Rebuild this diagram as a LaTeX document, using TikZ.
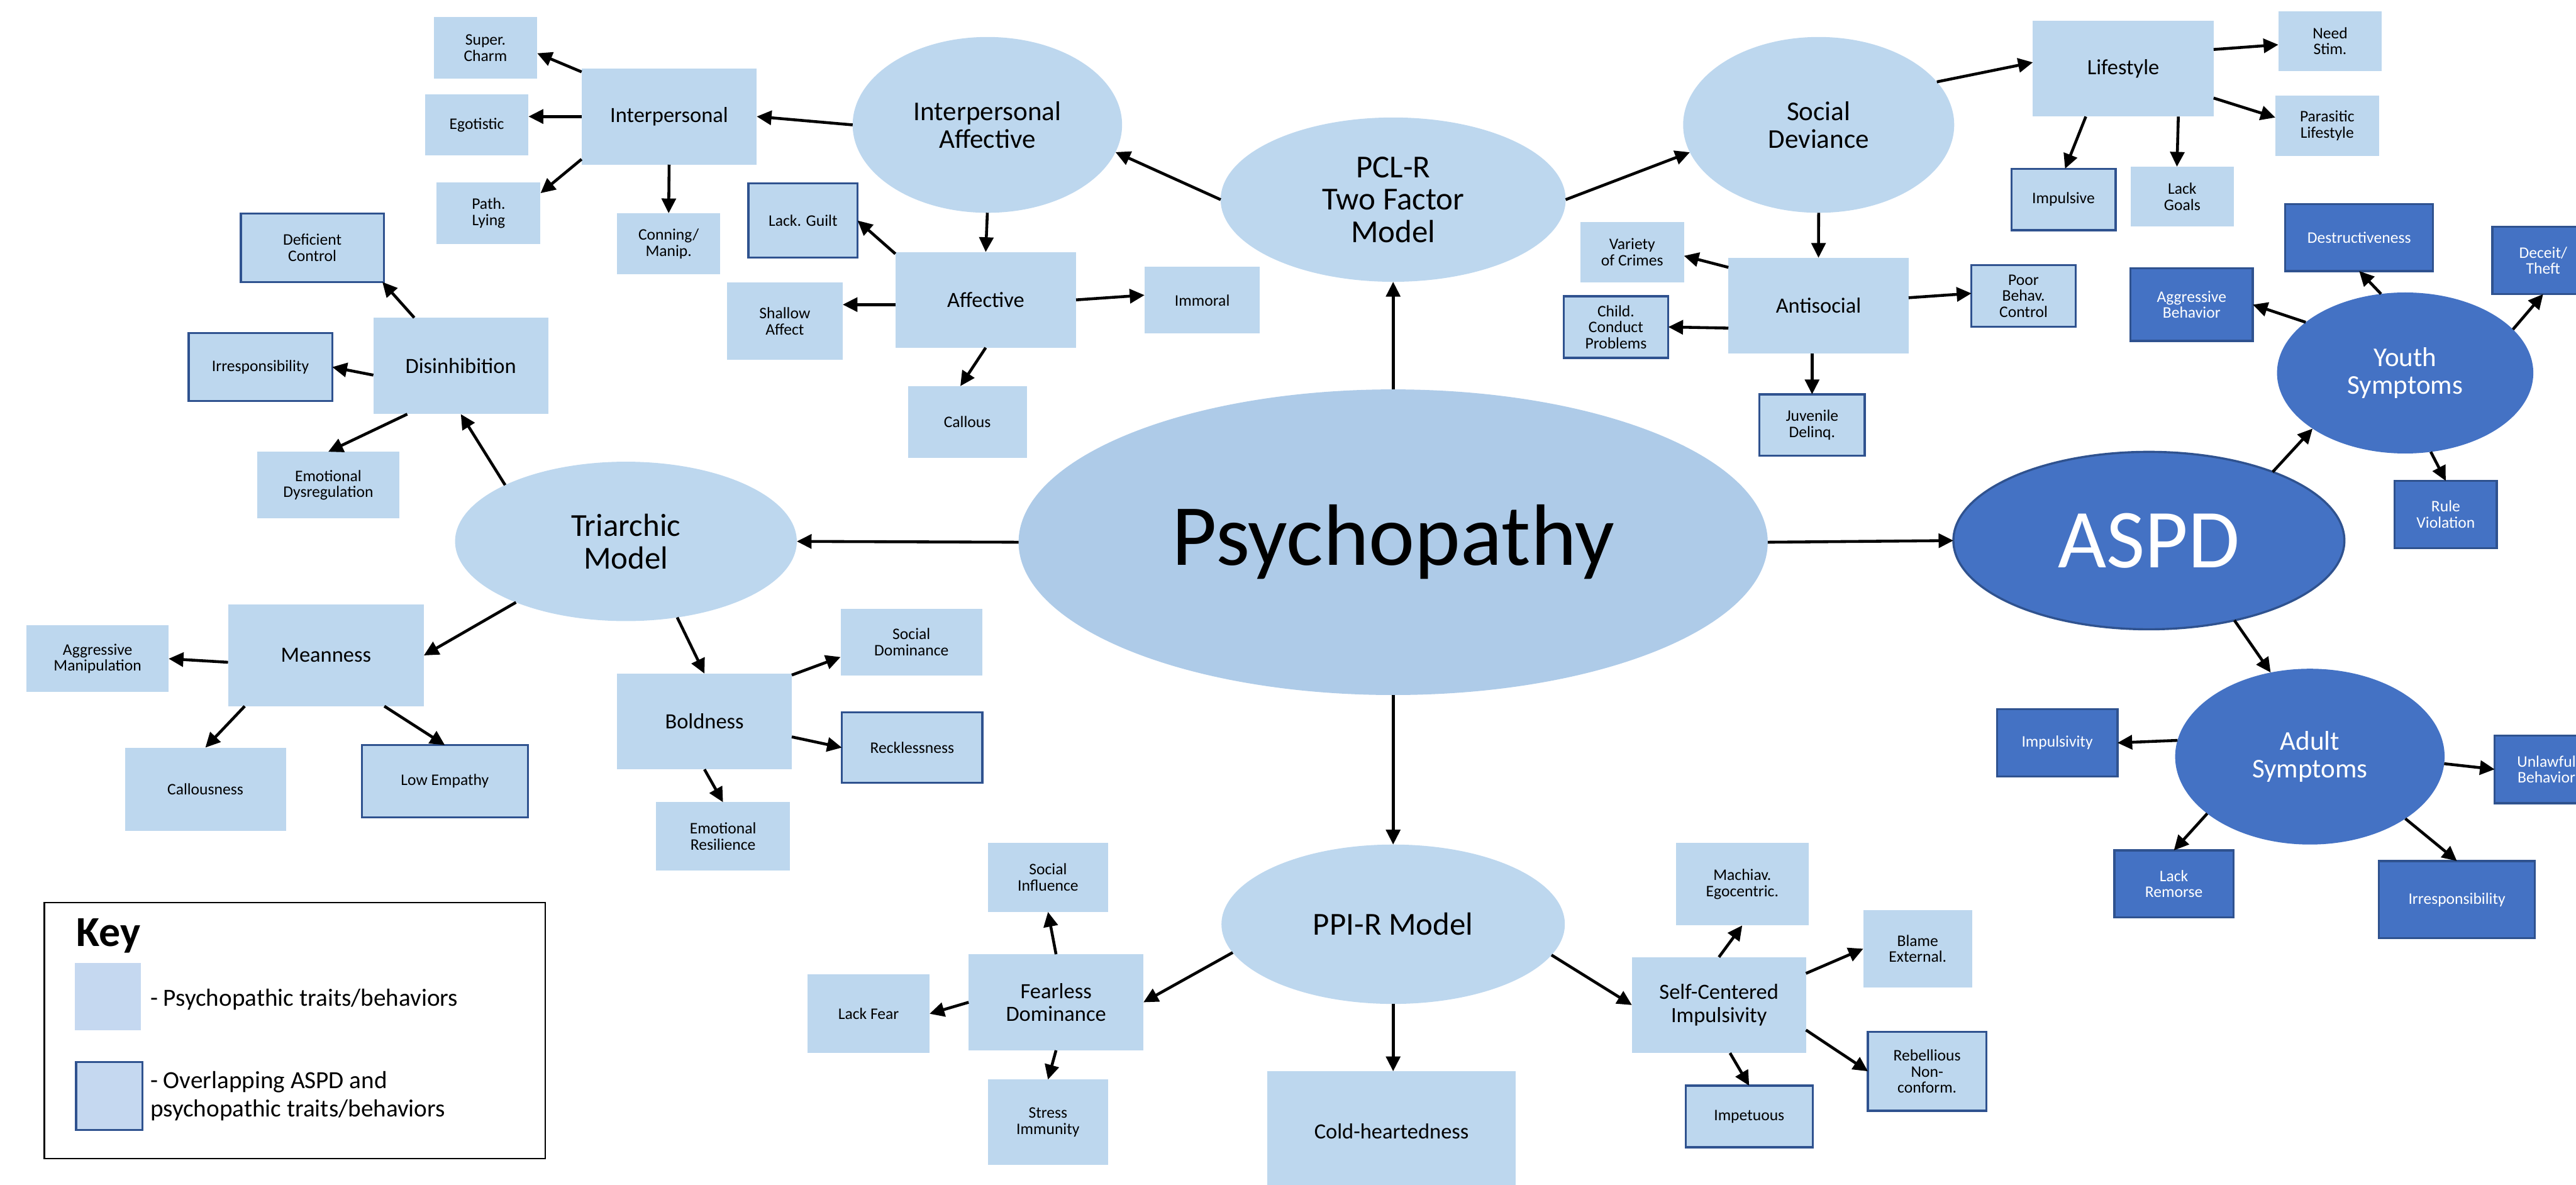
\documentclass[tikz,border=0pt]{standalone}
\usepackage{fontspec}
\setmainfont{Carlito}
\usetikzlibrary{shapes.geometric,arrows.meta}
\definecolor{lfill}{HTML}{BDD7EE}
\definecolor{psyfill}{HTML}{AECBE8}
\definecolor{dfill}{HTML}{4472C4}
\definecolor{bord}{HTML}{2F528F}
\definecolor{keyfill}{HTML}{C5D8F0}
\tikzset{
  fsmall/.style={font=\fontsize{9.8}{9.8}\selectfont},
  fmid/.style={font=\fontsize{13.2}{14}\selectfont},
  fell/.style={font=\fontsize{16.5}{16.8}\selectfont},
  fbig/.style={font=\fontsize{19.5}{19.8}\selectfont},
  lbox/.style={rectangle, fill=lfill, inner sep=0pt, outer sep=0pt, align=center, fsmall},
  obox/.style={lbox, draw=bord, line width=1.3pt},
  dbox/.style={rectangle, fill=dfill, draw=bord, line width=1.3pt, inner sep=0pt, outer sep=0pt, align=center, text=white, fsmall},
  mbox/.style={lbox, fmid},
  ell/.style={ellipse, fill=lfill, inner sep=0pt, outer sep=0pt, align=center},
  dell/.style={ellipse, fill=dfill, inner sep=0pt, outer sep=0pt, align=center, text=white},
  arr/.style={-{Triangle[length=9pt,width=8.6pt]}, line width=1.75pt, black},
}
\begin{document}
\begin{tikzpicture}[x=1pt,y=-1pt]
\useasboundingbox (0,0) rectangle (1568,721);

% ---- ellipses
\node[ell, fill=psyfill, minimum width=456, minimum height=186, font=\fontsize{53}{56}\selectfont] (psy) at (848,330) {Psychopathy};
\node[ell, minimum width=210, minimum height=100, fbig] (pcl) at (848,121.5) {PCL-R\\Two Factor\\Model};
\node[ell, minimum width=164, minimum height=107, fell] (ia) at (601,76) {Interpersonal\\Affective};
\node[ell, minimum width=165, minimum height=107, fell] (sd) at (1107,76) {Social\\Deviance};
\node[ell, minimum width=208, minimum height=97, fbig] (tri) at (381,329.5) {Triarchic\\Model};
\node[ell, minimum width=209, minimum height=97, fbig] (ppi) at (848,562.5) {PPI-R Model};
\node[dell, draw=bord, line width=1.3pt, minimum width=238, minimum height=108, font=\fontsize{51}{54}\selectfont] (aspd) at (1308,329) {ASPD};
\node[dell, minimum width=156, minimum height=98, fell] (youth) at (1464,227) {Youth\\Symptoms};
\node[dell, minimum width=164, minimum height=107, fell] (adult) at (1406,460.5) {Adult\\Symptoms};

% ---- PCL-R branch
\node[lbox, minimum width=63, minimum height=37.2] (charm) at (295.5,29.1) {Super.\\Charm};
\node[lbox, minimum width=63, minimum height=37] (ego) at (290.2,76) {Egotistic};
\node[mbox, minimum width=106.6, minimum height=58.6] (interp) at (407.3,70.9) {Interpersonal};
\node[lbox, minimum width=63.2, minimum height=37.3] (lying) at (297.4,129.7) {Path.\\Lying};
\node[lbox, minimum width=63, minimum height=37.2] (conning) at (407,148.4) {Conning/\\Manip.};
\node[obox, minimum width=66.4, minimum height=45.2] (guilt) at (488.8,134.2) {Lack. Guilt};
\node[lbox, minimum width=70.5, minimum height=47.2] (shallow) at (477.7,195.4) {Shallow\\Affect};
\node[mbox, minimum width=110, minimum height=58.2] (affective) at (600,182.5) {Affective};
\node[lbox, minimum width=70.3, minimum height=40.6] (immoral) at (731.8,182.7) {Immoral};
\node[lbox, minimum width=72.4, minimum height=43.8] (callous) at (588.8,256.9) {Callous};

\node[mbox, minimum width=110, minimum height=58.3] (lifestyle) at (1292.4,41.8) {Lifestyle};
\node[lbox, minimum width=63, minimum height=36.6] (needstim) at (1418.3,25) {Need\\Stim.};
\node[lbox, minimum width=63, minimum height=36.5] (parasitic) at (1416.5,76.5) {Parasitic\\Lifestyle};
\node[obox, minimum width=63.4, minimum height=37.4] (impulsive) at (1256,121.4) {Impulsive};
\node[lbox, minimum width=62.6, minimum height=36.5] (lackgoals) at (1328.3,119.7) {Lack\\Goals};
\node[lbox, minimum width=63, minimum height=36.5] (variety) at (993.5,153.5) {Variety\\of Crimes};
\node[obox, minimum width=63.7, minimum height=37.5] (child) at (983.6,199) {Child.\\Conduct\\Problems};
\node[mbox, minimum width=109.7, minimum height=58.2] (antisocial) at (1106.9,186) {Antisocial};
\node[obox, minimum width=63.4, minimum height=37.5] (poorbehav) at (1231.7,180.2) {Poor\\Behav.\\Control};
\node[obox, minimum width=64, minimum height=37.4] (juvenile) at (1103,258.7) {Juvenile\\Delinq.};

% ---- ASPD branch
\node[dbox, minimum width=90, minimum height=40.7] (destruct) at (1436,144.6) {Destructiveness};
\node[dbox, minimum width=74.5, minimum height=44.1] (aggbeh) at (1334,185.4) {Aggressive\\Behavior};
\node[dbox, minimum width=62, minimum height=41] (deceit) at (1548,158.5) {Deceit/\\Theft};
\node[dbox, minimum width=62.2, minimum height=40.9] (rule) at (1488.7,313.1) {Rule\\Violation};
\node[dbox, minimum width=73.3, minimum height=41] (impulsivity) at (1252.2,452.1) {Impulsivity};
\node[dbox, minimum width=63, minimum height=41.2] (unlawful) at (1550,468.2) {Unlawful\\Behavior};
\node[dbox, minimum width=72.5, minimum height=40.7] (remorse) at (1323.2,537.9) {Lack\\Remorse};
\node[dbox, minimum width=95, minimum height=47] (irrB) at (1495.5,547.5) {Irresponsibility};

% ---- Triarchic branch
\node[obox, minimum width=87, minimum height=41.6] (defctl) at (190.1,150.8) {Deficient\\Control};
\node[obox, minimum width=87.4, minimum height=41.3] (irrA) at (158.5,223.4) {Irresponsibility};
\node[mbox, minimum width=106.5, minimum height=58.7] (disinh) at (280.5,222.7) {Disinhibition};
\node[lbox, minimum width=86.3, minimum height=40.5] (emodys) at (199.8,295.2) {Emotional\\Dysregulation};
\node[lbox, minimum width=86.5, minimum height=40.5] (aggman) at (59.4,400.9) {Aggressive\\Manipulation};
\node[mbox, minimum width=119.2, minimum height=61.8] (meanness) at (198.4,398.9) {Meanness};
\node[lbox, minimum width=98, minimum height=50.6] (callousness) at (125,480.3) {Callousness};
\node[obox, minimum width=101, minimum height=44] (lowemp) at (270.8,475.5) {Low Empathy};
\node[mbox, minimum width=106.3, minimum height=58.3] (boldness) at (428.8,439.1) {Boldness};
\node[lbox, minimum width=86.3, minimum height=40.5] (socdom) at (554.8,390.7) {Social\\Dominance};
\node[obox, minimum width=85.5, minimum height=43] (reckless) at (555.2,455) {Recklessness};
\node[lbox, minimum width=81.7, minimum height=41.7] (emores) at (440.1,509.1) {Emotional\\Resilience};

% ---- PPI-R branch
\node[lbox, minimum width=73.3, minimum height=42] (socinf) at (637.9,534) {Social\\Influence};
\node[mbox, minimum width=106.4, minimum height=58.5] (fearless) at (642.8,610) {Fearless\\Dominance};
\node[lbox, minimum width=74.2, minimum height=47.9] (lackfear) at (528.7,617) {Lack Fear};
\node[lbox, minimum width=73.3, minimum height=51.9] (stress) at (637.9,683) {Stress\\Immunity};
\node[mbox, minimum width=151.3, minimum height=73] (cold) at (847,688.5) {Cold-heartedness};
\node[lbox, minimum width=81, minimum height=50.2] (machiav) at (1060.5,538.1) {Machiav.\\Egocentric.};
\node[lbox, minimum width=66.3, minimum height=47.2] (blame) at (1167.3,577.4) {Blame\\External.};
\node[mbox, minimum width=105.9, minimum height=58.4] (selfc) at (1046.3,611.7) {Self-Centered\\Impulsivity};
\node[obox, minimum width=77.4, minimum height=37.5] (impetuous) at (1064.7,679.5) {Impetuous};
\node[obox, minimum width=72, minimum height=48] (rebel) at (1173,652) {Rebellious\\Non-\\conform.};

% ---- key
\node[draw=black, line width=0.8pt, minimum width=305, minimum height=156, inner sep=0pt] (key) at (179.5,627.3) {};
\node[fill=keyfill, minimum width=40.2, minimum height=40.7, inner sep=0pt] (keyA) at (65.5,606.6) {};
\node[fill=keyfill, draw=bord, line width=1.3pt, minimum width=40.5, minimum height=41.4, inner sep=0pt] (keyB) at (66.5,667.1) {};
\node[anchor=base west, font=\fontsize{26}{28}\selectfont\bfseries, inner sep=0pt] (keyT) at (46.5,576) {Key};
\node[anchor=base west, font=\fontsize{15}{17}\selectfont, inner sep=0pt] (keyAt) at (91.3,612.2) {- Psychopathic traits/behaviors};
\node[anchor=west, align=left, font=\fontsize{15}{17.3}\selectfont, inner sep=0pt] (keyBt) at (91.3,667) {- Overlapping ASPD and\\psychopathic traits/behaviors};

% ---- connectors
\draw[arr] (psy.north) -- (pcl.south);
\draw[arr] (psy.west) -- (tri.east);
\draw[arr] (psy.east) -- (aspd.west);
\draw[arr] (psy.south) -- (ppi.north);
\draw[arr] (pcl.west) -- (ia.-12);
\draw[arr] (pcl.east) -- (sd.192);
\draw[arr] (ia.west) -- (interp.east);
\draw[arr] (ia.south) -- (affective.north);
\draw[arr] (interp.153) -- (charm.-6.6);
\draw[arr] (interp.west) -- (interp.west -| ego.east);
\draw[arr] (interp.206.6) -- (lying.21.5);
\draw[arr] (interp.south) -- (conning.north);
\draw[arr] (affective.153) -- (guilt.east);
\draw[arr] (affective.183) -- (affective.183 -| shallow.east);
\draw[arr] (affective.east) -- (immoral.175);
\draw[arr] (affective.south) -- (callous.101.6);
\draw[arr] (sd.20.8) -- (lifestyle.176.5);
\draw[arr] (sd.south) -- (antisocial.north);
\draw[arr] (lifestyle.12) -- (needstim.184);
\draw[arr] (lifestyle.-18.6) -- (parasitic.171.6);
\draw[arr] (lifestyle.232.5) -- (impulsive.87.8);
\draw[arr] (lifestyle.-41.8) -- (lackgoals.100);
\draw[arr] (antisocial.157.7) -- (variety.-4.2);
\draw[arr] (antisocial.194.7) -- (child.east);
\draw[arr] (antisocial.5.4) -- (poorbehav.177);
\draw[arr] (juvenile.north |- antisocial.south) -- (juvenile.north);
\draw[arr] (aspd.29.3) -- (youth.211.9);
\draw[arr] (youth.153.2) -- (aggbeh.east);
\draw[arr] (youth.107.4) -- (destruct.south);
\draw[arr] (youth.22.5) -- (deceit.south);
\draw[arr] (youth.-72.7) -- (rule.north);
\draw[arr] (aspd.-43.5) -- (adult.115.7);
\draw[arr] (adult.173.5) -- (impulsivity.east);
\draw[arr] (adult.-3) -- (unlawful.west);
\draw[arr] (adult.209.1) -- (remorse.north);
\draw[arr] (adult.-33) -- (irrB.north);
\draw[arr] (tri.155.8) -- (disinh.south);
\draw[arr] (disinh.134.1) -- (defctl.-26);
\draw[arr] (disinh.186.2) -- (irrA.east);
\draw[arr] (disinh.222) -- (emodys.north);
\draw[arr] (tri.209.8) -- (meanness.east);
\draw[arr] (tri.-56.6) -- (boldness.north);
\draw[arr] (meanness.184.7) -- (aggman.east);
\draw[arr] (meanness.212.6) -- (callousness.north);
\draw[arr] (meanness.-41.4) -- (lowemp.north);
\draw[arr] (boldness.28.2) -- (socdom.192.7);
\draw[arr] (boldness.-10.6) -- (reckless.west);
\draw[arr] (boldness.south) -- (emores.north);
\draw[arr] (ppi.190) -- (fearless.east);
\draw[arr] (ppi.south) -- (ppi.south |- cold.north);
\draw[arr] (ppi.-11.7) -- (selfc.west);
\draw[arr] (fearless.north) -- (socinf.south);
\draw[arr] (fearless.west) -- (lackfear.east);
\draw[arr] (fearless.south) -- (stress.north);
\draw[arr] (selfc.north) -- (machiav.south);
\draw[arr] (selfc.20) -- (blame.west);
\draw[arr] (selfc.-77.9) -- (impetuous.north);
\draw[arr] (selfc.-16.1) -- (rebel.west);
\end{tikzpicture}
\end{document}
